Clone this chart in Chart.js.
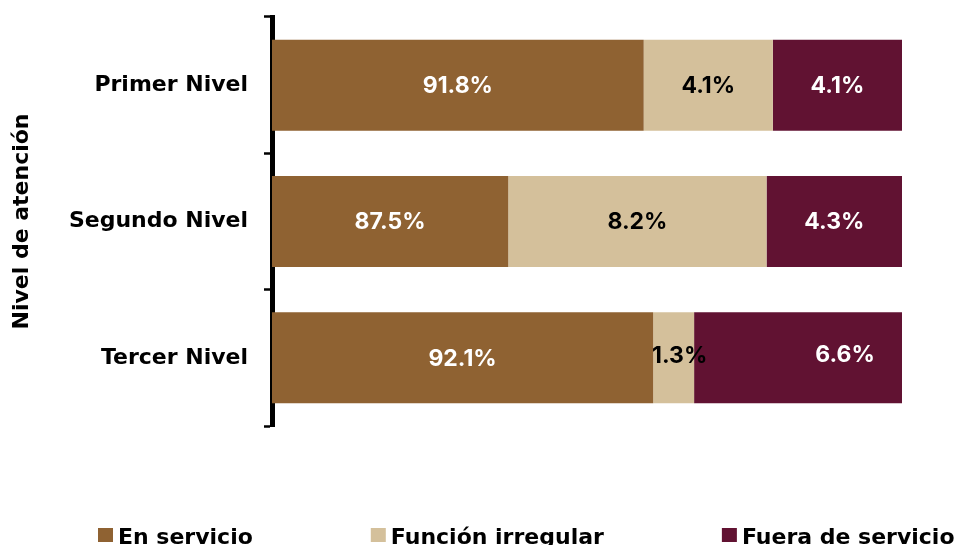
<!DOCTYPE html>
<html>
<head>
<meta charset="utf-8">
<script src="https://cdn.jsdelivr.net/npm/chart.js@4.4.1/dist/chart.umd.min.js"></script>
<style>
  html, body { margin: 0; padding: 0; background: #ffffff; overflow: hidden; }
  #wrap { width: 960px; height: 560px; }
</style>
</head>
<body>
<div id="wrap"><canvas id="c" width="960" height="560"></canvas></div>
<script>
// ---- data ----
const categories = ['Primer Nivel', 'Segundo Nivel', 'Tercer Nivel'];
const seriesNames = ['En servicio', 'Función irregular', 'Fuera de servicio'];
const enServicio = [91.8, 87.5, 92.1];
const funcionIrregular = [4.1, 8.2, 1.3];
const fueraDeServicio = [4.1, 4.3, 6.6];
const axisTitle = 'Nivel de atención';

// ---- styles ----
const colors = ['#8F6232', '#D4C09B', '#611232'];
const labelColors = ['#ffffff', '#000000', '#ffffff'];
const TEXT_FONT = '"DejaVu Sans", sans-serif';
const NUM_FONT = 'Inter, "Open Sans", sans-serif';

const dataLabelPlugin = {
  id: 'dataLabels',
  afterDatasetsDraw(chart, args, opts) {
    const ctx = chart.ctx;
    const area = chart.chartArea;
    ctx.save();
    ctx.font = 'bold 23px ' + NUM_FONT;
    ctx.textAlign = 'center';
    ctx.textBaseline = 'middle';
    chart.data.datasets.forEach((ds, di) => {
      const meta = chart.getDatasetMeta(di);
      meta.data.forEach((bar, i) => {
        const v = ds.data[i];
        const shift = (opts.shift && opts.shift[di + '-' + i]) || [0, 0];
        const x0 = Math.max(Math.min(bar.x, bar.base), area.left);
        const x1 = Math.min(Math.max(bar.x, bar.base), area.right);
        const cx = (x0 + x1) / 2 + shift[0];
        const cy = bar.y + shift[1];
        ctx.fillStyle = labelColors[di];
        ctx.fillText(v.toFixed(1) + '%', cx, cy + 1);
      });
    });
    ctx.restore();
  }
};

const customLegend = {
  id: 'customLegend',
  afterDraw(chart, args, opts) {
    const ctx = chart.ctx;
    ctx.save();
    ctx.font = 'bold 22px ' + TEXT_FONT;
    ctx.textBaseline = 'alphabetic';
    ctx.textAlign = 'left';
    let x = opts.startX;
    chart.data.datasets.forEach((ds) => {
      ctx.fillStyle = ds.backgroundColor;
      ctx.fillRect(x, opts.boxTop, 15, 14);
      ctx.fillStyle = '#000000';
      ctx.fillText(ds.label, x + 20, opts.baseline);
      x += 20 + ctx.measureText(ds.label).width + opts.gap;
    });
    ctx.restore();
  }
};

new Chart(document.getElementById('c'), {
  type: 'bar',
  data: {
    labels: categories,
    datasets: [
      { label: seriesNames[0], data: enServicio, backgroundColor: colors[0] },
      { label: seriesNames[1], data: funcionIrregular, backgroundColor: colors[1] },
      { label: seriesNames[2], data: fueraDeServicio, backgroundColor: colors[2] }
    ]
  },
  options: {
    indexAxis: 'y',
    responsive: false,
    animation: false,
    barPercentage: 0.667,
    categoryPercentage: 1.0,
    layout: { padding: { top: 17, right: 58, bottom: 134, left: 0 } },
    scales: {
      x: {
        stacked: true,
        min: 80,
        max: 100,
        display: false
      },
      y: {
        stacked: true,
        afterFit(scale) {
          scale.width = 272;
          scale.paddingTop = 0;
          scale.paddingBottom = 0;
        },
        border: { display: true, color: '#000000', width: 5 },
        grid: {
          drawOnChartArea: false,
          drawTicks: true,
          tickLength: 8,
          tickWidth: 2.5,
          tickColor: '#000000',
          offset: true
        },
        ticks: {
          color: '#000000',
          padding: 16,
          font: { family: TEXT_FONT, size: 22, weight: 'bold' }
        },
        title: {
          display: true,
          text: axisTitle,
          color: '#000000',
          padding: { top: 9, bottom: 0 },
          font: { family: TEXT_FONT, size: 22, weight: 'bold' }
        }
      }
    },
    plugins: {
      legend: { display: false },
      tooltip: { enabled: false },
      dataLabels: { shift: { '1-2': [6, -3], '2-2': [47, -4] } },
      customLegend: { startX: 98, boxTop: 528, baseline: 544, gap: 118 }
    }
  },
  plugins: [dataLabelPlugin, customLegend]
});
</script>
</body>
</html>
